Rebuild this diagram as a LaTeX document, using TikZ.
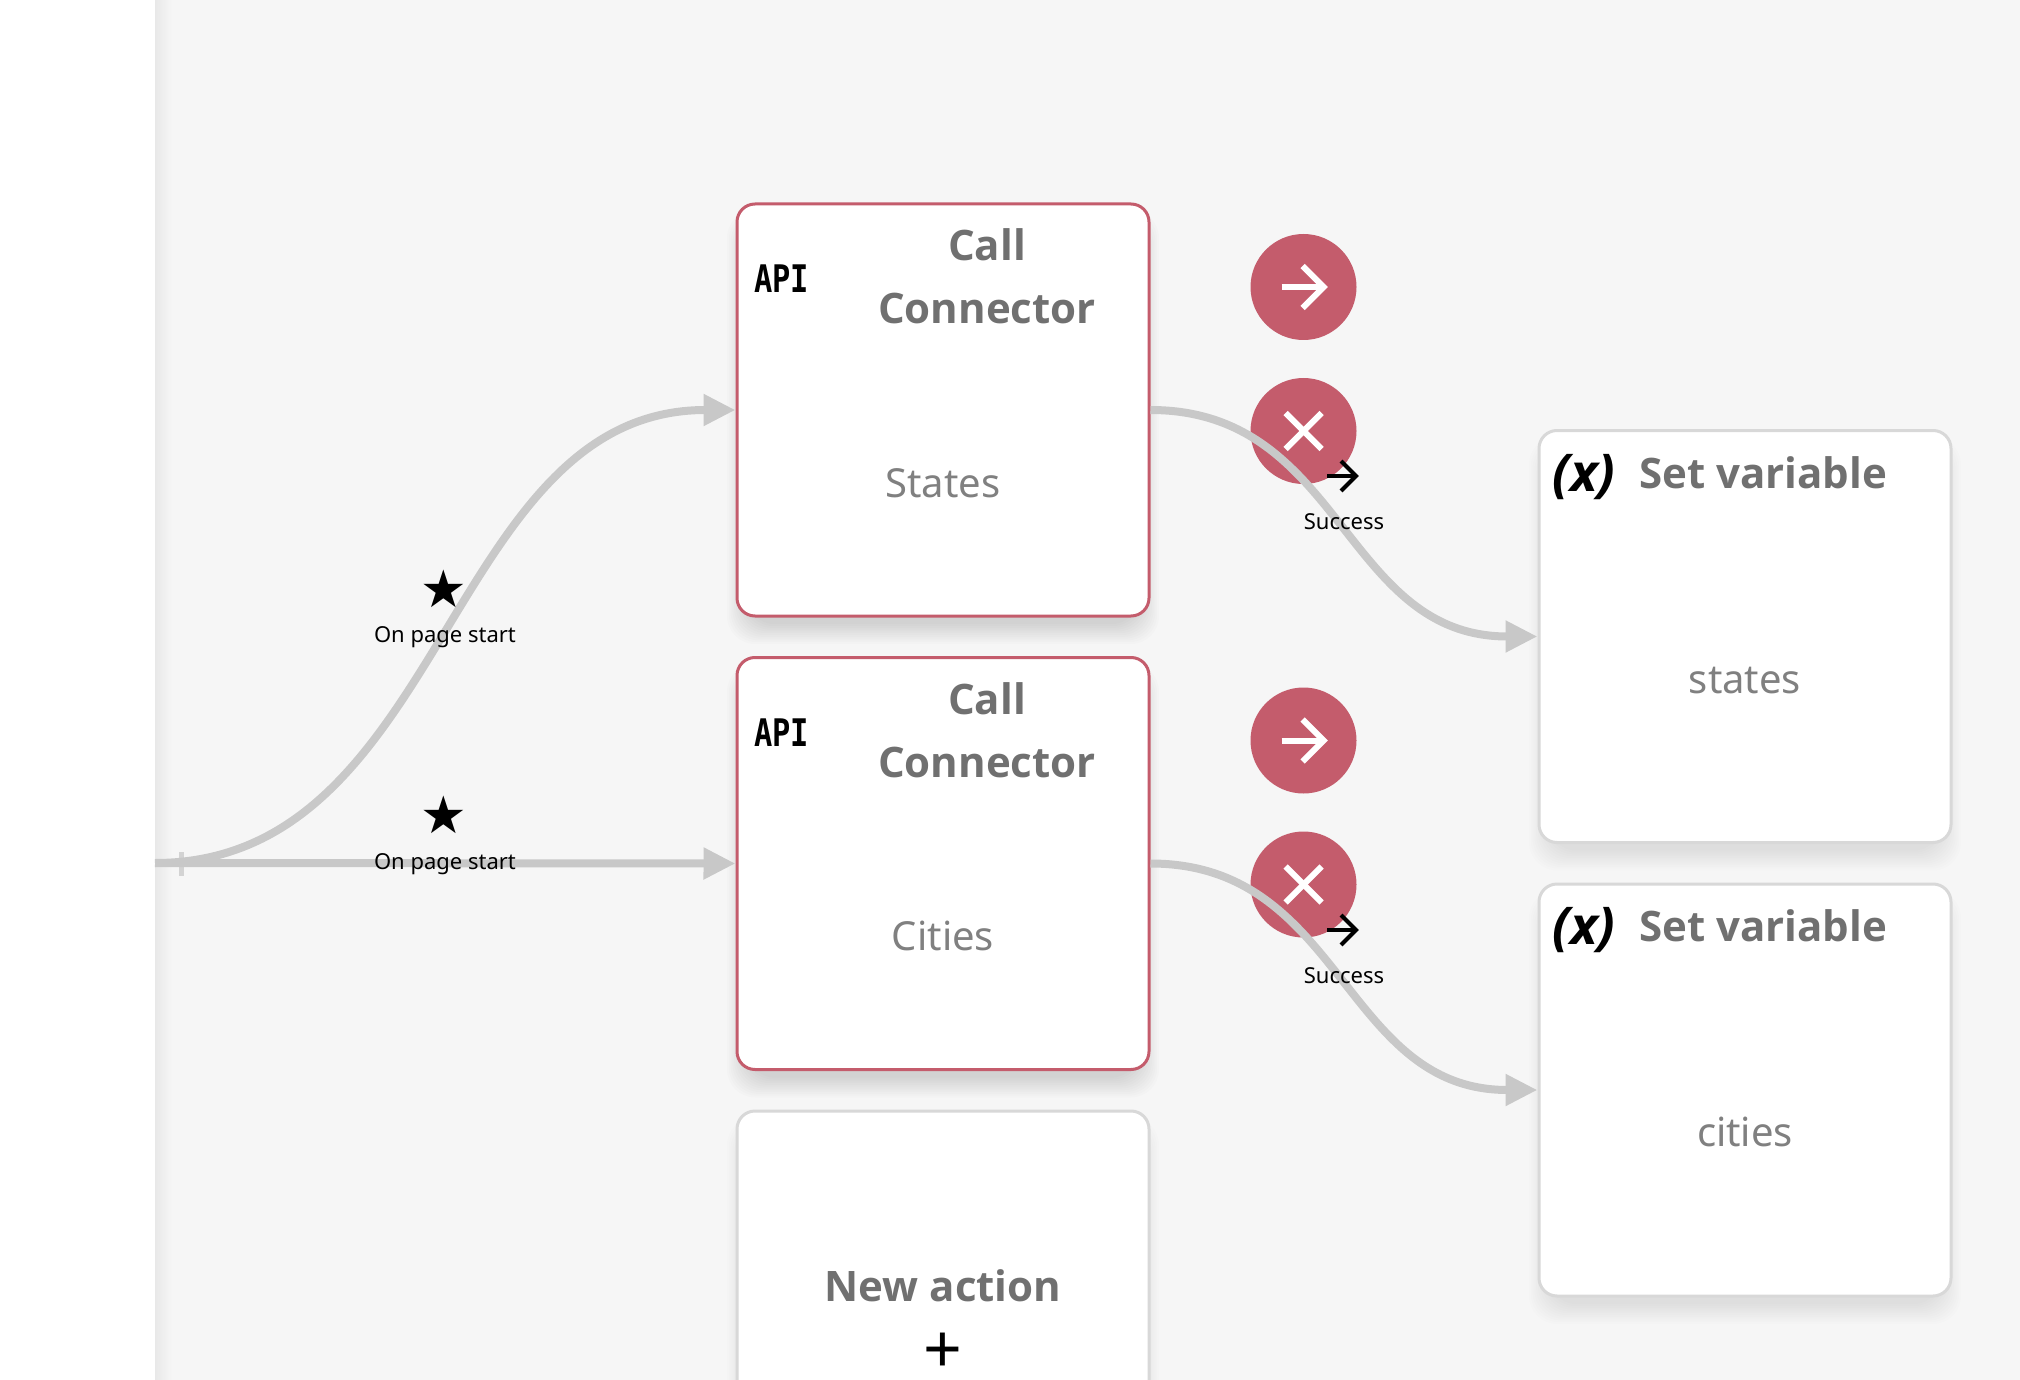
\documentclass[tikz,border=0pt]{standalone}
\usepackage{fontspec}
\setmainfont{Noto Sans}[BoldFont={Open Sans Bold},BoldItalicFont={Open Sans Bold Italic}]
\newfontfamily\symfont{DejaVu Sans}
\newfontfamily\apifont{DejaVu Sans Mono}
\usetikzlibrary{arrows.meta}
\definecolor{bgc}{HTML}{F6F6F6}
\definecolor{redc}{HTML}{C45C6C}
\definecolor{edgec}{HTML}{C8C8C8}
\definecolor{cardc}{HTML}{D8D8D8}
\definecolor{titlec}{HTML}{707070}
\definecolor{subc}{HTML}{808080}
\tikzset{
  cardbase/.style={rectangle,rounded corners=9pt,fill=white,line width=1.5pt,inner sep=0pt,minimum width=206pt,minimum height=206pt},
  actioncard/.style={cardbase,draw=redc},
  plaincard/.style={cardbase,draw=cardc},
  title/.style={anchor=base,text=titlec,inner sep=0pt,font=\fontsize{21}{25}\selectfont\bfseries},
  subtitle/.style={anchor=base,text=subc,inner sep=0pt,font=\fontsize{20}{24}\selectfont},
  tiny/.style={anchor=base,text=black,inner sep=0pt,font=\fontsize{11}{13}\selectfont},
  roundbtn/.style={circle,fill=redc,minimum size=53pt,inner sep=0pt},
  conn/.style={draw=edgec,line width=4pt,-{Triangle[length=16pt,width=15pt,fill=edgec]}},
  icon/.style={line width=3pt,white},
}
\newcommand{\softshadow}[3]{%
  \foreach \k in {0,...,11}{%
    \fill[black,opacity=#3,rounded corners=14pt] ({#1-216+1.8*\k},{#2-200+1.8*\k}) rectangle ({#1+216-1.8*\k},{#2+234-1.8*\k});
  }}
\begin{document}
\begin{tikzpicture}[x=0.5pt,y=-0.5pt]
\useasboundingbox (0,0) rectangle (2020,1380);
\clip (0,0) rectangle (2020,1380);
\fill[bgc] (0,0) rectangle (2020,1380);
\shade[left color=black!9,right color=bgc] (155,0) rectangle (172,1380);
\fill[white] (0,0) rectangle (155,1380);
% shadows
\softshadow{943}{410}{0.012}
\softshadow{943}{863.5}{0.012}
\softshadow{943}{1317}{0.007}
\softshadow{1745}{636.5}{0.007}
\softshadow{1745}{1090}{0.007}
% cards
\node[actioncard] (c1) at (943,410) {};
\node[actioncard] (c2) at (943,863.5) {};
\node[plaincard] (c3) at (943,1317) {};
\node[plaincard] (v1) at (1745,636.5) {};
\node[plaincard] (v2) at (1745,1090) {};
% round buttons
\node[roundbtn] (ok1) at (1303.5,287) {};
\node[roundbtn] (no1) at (1303.5,431) {};
\node[roundbtn] (ok2) at (1303.5,740.5) {};
\node[roundbtn] (no2) at (1303.5,884.5) {};
\foreach \n in {ok1,ok2}{
  \draw[icon] ([xshift=-11pt]\n.center) -- ([xshift=10pt]\n.center);
  \draw[icon] ([xshift=-.5pt,yshift=10.5pt]\n.center) -- ([xshift=10pt]\n.center) -- ([xshift=-.5pt,yshift=-10.5pt]\n.center);
}
\foreach \n in {no1,no2}{
  \draw[icon] ([xshift=-9pt,yshift=-9pt]\n.center) -- ([xshift=9pt,yshift=9pt]\n.center);
  \draw[icon] ([xshift=-9pt,yshift=9pt]\n.center) -- ([xshift=9pt,yshift=-9pt]\n.center);
}
% connectors
\coordinate (start) at (155,863);
\fill[edgec,opacity=.75] (179,852) rectangle (184,876);
\draw[conn] (start) .. controls (446,863) and (446,410) .. (c1.west);
\draw[conn] (start) -- (c2.west);
\draw[conn] (c1.east) .. controls (1343,410) and (1343,636.5) .. (v1.west);
\draw[conn] (c2.east) .. controls (1343,863.5) and (1343,1090) .. (v2.west);
% trigger labels
\node[text=black,inner sep=0pt,font=\fontsize{26}{26}\selectfont\symfont] (s1) at (444,589) {★};
\node[text=black,inner sep=0pt,font=\fontsize{26}{26}\selectfont\symfont] (s2) at (444,815) {★};
\node[tiny] (l1) at (445,642) {On page start};
\node[tiny] (l2) at (445,869) {On page start};
% success markers
\foreach \y/\m in {476/a,930/b}{
  \coordinate (sa\m) at (1327,\y);
  \coordinate (sb\m) at (1356,\y);
  \draw[line width=2pt,black] (sa\m) -- (sb\m);
  \draw[line width=2pt,black] ([xshift=-7.5pt,yshift=7.5pt]sb\m) -- (sb\m) -- ([xshift=-7.5pt,yshift=-7.5pt]sb\m);
}
\node[tiny] (o1) at (1344,529) {Success};
\node[tiny] (o2) at (1344,983) {Success};
% API icons
\node[inner sep=0pt,anchor=base,xscale=.8,font=\fontsize{19}{19}\selectfont\apifont\bfseries] (a1) at (781.5,293) {API};
\node[inner sep=0pt,anchor=base,xscale=.8,font=\fontsize{19}{19}\selectfont\apifont\bfseries] (a2) at (781.5,746.5) {API};
% titles
\node[title] (t1a) at (987,261) {Call};
\node[title] (t1b) at (987,324) {Connector};
\node[title] (t2a) at (987,714.5) {Call};
\node[title] (t2b) at (987,777.5) {Connector};
\node[subtitle] (n1) at (943,497) {States};
\node[subtitle] (n2) at (943,950.5) {Cities};
\node[title] (na) at (943,1301) {New action};
\node[inner sep=0pt,text=black,font=\fontsize{34}{34}\selectfont] (plus) at (943,1353) {+};
% set variable
\node[anchor=base,inner sep=0pt,text=black,font=\fontsize{26}{26}\selectfont\bfseries\itshape] (xa) at (1584,491) {(x)};
\node[title,anchor=base west] (sva) at (1639,488) {Set variable};
\node[anchor=base,inner sep=0pt,text=black,font=\fontsize{26}{26}\selectfont\bfseries\itshape] (xb) at (1584,944.5) {(x)};
\node[title,anchor=base west] (svb) at (1639,941.5) {Set variable};
\node[subtitle] (w1) at (1745,693) {states};
\node[subtitle] (w2) at (1745,1146.5) {cities};
\end{tikzpicture}
\end{document}
